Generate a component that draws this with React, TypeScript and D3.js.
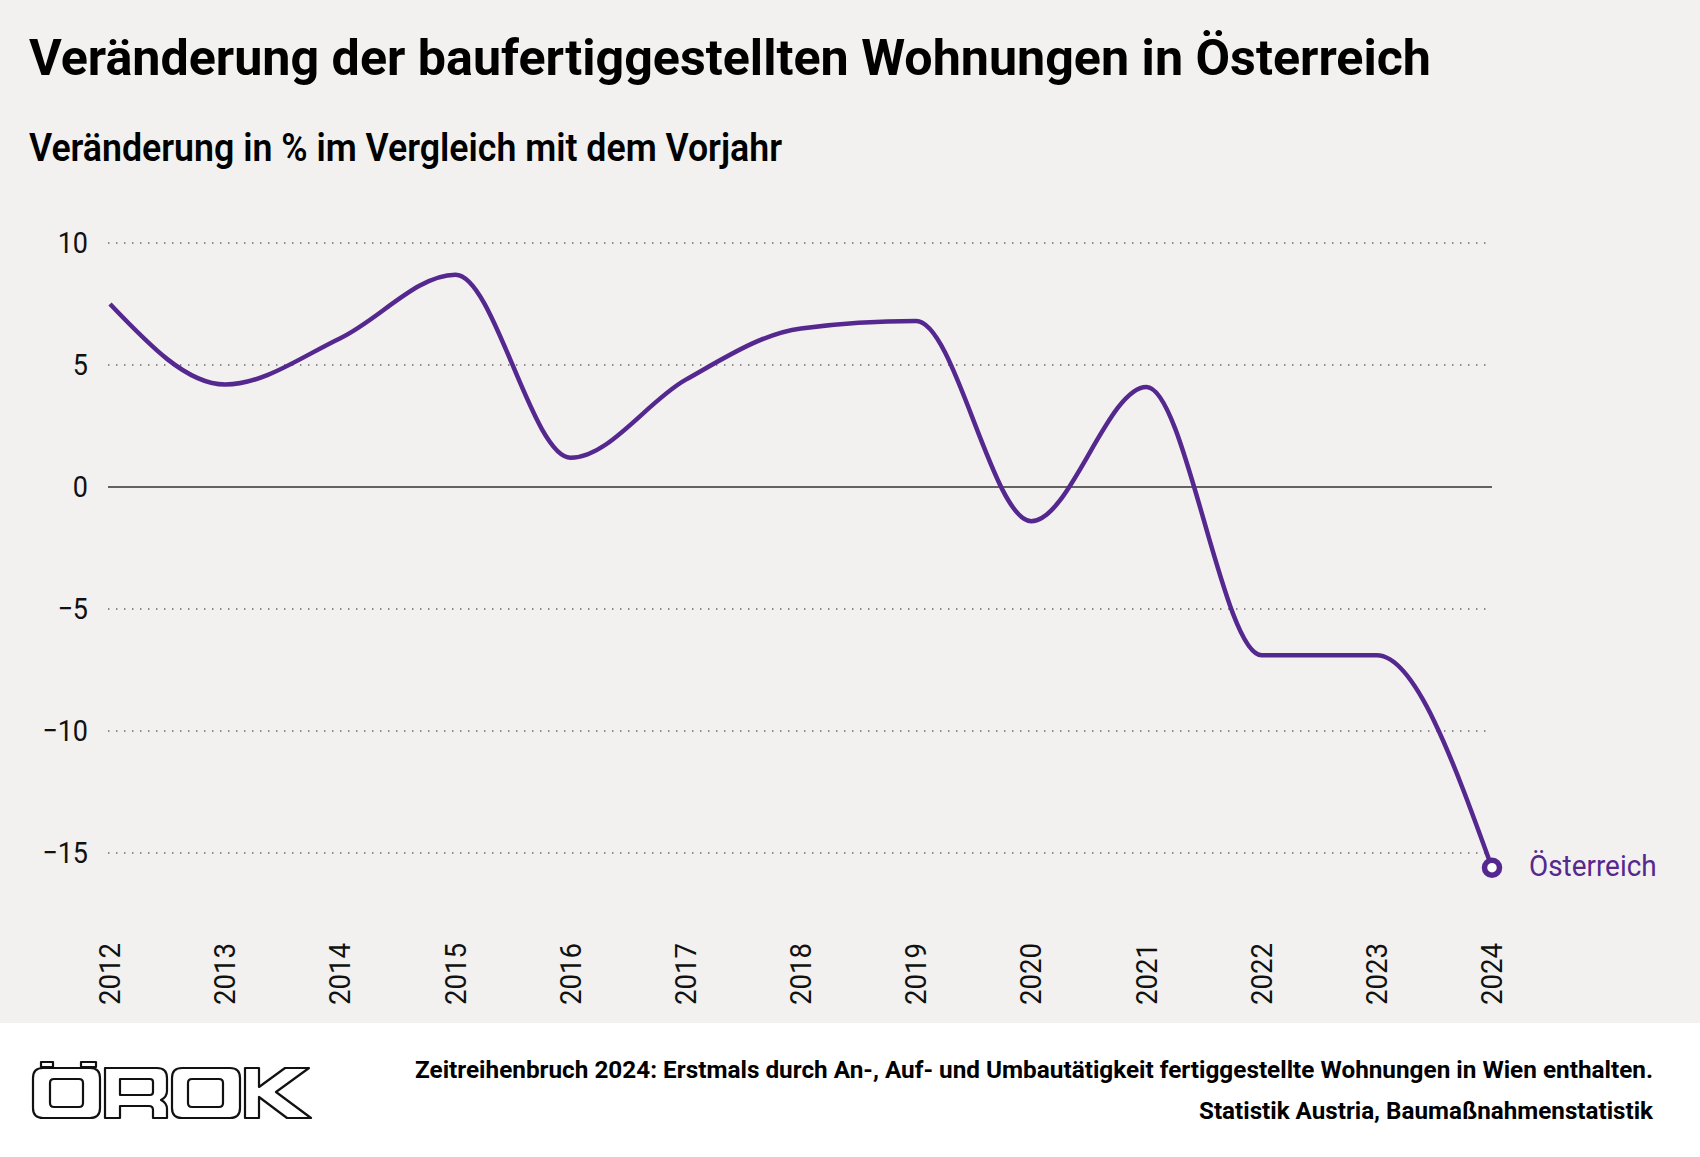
import React from 'react'
import * as d3 from 'd3'

// Veränderung der baufertiggestellten Wohnungen, % zum Vorjahr
const years = [2012, 2013, 2014, 2015, 2016, 2017, 2018, 2019, 2020, 2021, 2022, 2023, 2024]
const values = [7.5, 4.2, 6.1, 8.7, 1.2, 4.4, 6.5, 6.8, -1.4, 4.1, -6.9, -6.9, -15.6]
const yTicks = [10, 5, 0, -5, -10, -15]
const seriesName = 'Österreich'

const title = 'Veränderung der baufertiggestellten Wohnungen in Österreich'
const subtitle = 'Veränderung in % im Vergleich mit dem Vorjahr'
const note = 'Zeitreihenbruch 2024: Erstmals durch An-, Auf- und Umbautätigkeit fertiggestellte Wohnungen in Wien enthalten.'
const source = 'Statistik Austria, Baumaßnahmenstatistik'

const W = 1700
const H = 1157
const purple = '#55288f'
const font = 'Roboto, "Noto Sans", sans-serif'

export default function App() {
  const x = d3.scaleLinear().domain([2012, 2024]).range([110, 1492])
  const y = d3.scaleLinear().domain([-15, 10]).range([853, 243])

  const line = d3.line<number>()
    .x((_, i) => x(years[i]))
    .y(d => y(d))
    .curve(d3.curveMonotoneX)

  const lastX = x(years[years.length - 1])
  const lastY = y(values[values.length - 1])
  const fmt = (v: number) => (v < 0 ? '\u2212' + Math.abs(v) : String(v))

  return (
    <div style={{ position: 'absolute', left: 0, top: 0 }}>
      <svg width={W} height={H} style={{ display: 'block' }}>
        <rect x={0} y={0} width={W} height={1023} fill="#f2f1ef" />
        <rect x={0} y={1023} width={W} height={H - 1023} fill="#ffffff" />

        <text x={29} y={75} fontFamily={font} fontWeight={700} fontSize={50}
          textLength={1402} lengthAdjust="spacingAndGlyphs" fill="#000">{title}</text>
        <text x={29} y={161} fontFamily={font} fontWeight={600} fontSize={38}
          textLength={753} lengthAdjust="spacingAndGlyphs" fill="#000">{subtitle}</text>

        {/* gridlines */}
        {yTicks.map(t => (
          <line key={'g' + t} x1={108} x2={lastX} y1={y(t)} y2={y(t)}
            stroke={t === 0 ? '#333' : '#666'}
            strokeWidth={t === 0 ? 1.6 : 1.4}
            strokeDasharray={t === 0 ? undefined : '1.4 6.6'} />
        ))}
        {yTicks.map(t => (
          <text key={'l' + t} transform={`translate(88,${y(t) + 10}) scale(0.9,1)`}
            textAnchor="end" fontFamily={font} fontSize={30} fill="#111">{fmt(t)}</text>
        ))}

        {/* x labels */}
        {years.map(yr => (
          <text key={yr} transform={`translate(${x(yr) + 10},943) rotate(-90) scale(0.92,1)`}
            textAnchor="end" fontFamily={font} fontSize={30} fill="#111">{yr}</text>
        ))}

        <path d={line(values) || ''} fill="none" stroke={purple} strokeWidth={4.5}
          strokeLinejoin="round" />
        <circle cx={lastX} cy={lastY} r={7.5} fill="#fff" stroke={purple} strokeWidth={5.5} />
        <text transform={`translate(1529,${lastY + 8}) scale(0.93,1)`}
          fontFamily={font} fontSize={30} fill={purple}>{seriesName}</text>

        {/* footer */}
        <g fill="#fff" stroke="#111" strokeWidth={2.2} strokeLinejoin="round">
          <rect x={41} y={1062} width={12} height={5} />
          <rect x={81} y={1062} width={15} height={5} />
          <path fillRule="evenodd" d="M43,1068 H90 Q100,1068 100,1078 V1108 Q100,1118 90,1118 H43 Q33,1118 33,1108 V1078 Q33,1068 43,1068 Z M54,1079 H79 Q83,1079 83,1083 V1103 Q83,1107 79,1107 H54 Q50,1107 50,1103 V1083 Q50,1079 54,1079 Z" />
          <path fillRule="evenodd" d="M105,1068 H157 Q167,1068 167,1078 V1091 Q167,1097 161,1100 Q167,1103 167,1109 V1118 H153 V1110 Q153,1106 149,1106 H120 V1118 H105 Z M120,1079 H150 Q153,1079 153,1082 V1092 Q153,1095 150,1095 H120 Z" />
          <path fillRule="evenodd" d="M182,1068 H230 Q240,1068 240,1078 V1108 Q240,1118 230,1118 H182 Q172,1118 172,1108 V1078 Q172,1068 182,1068 Z M192,1079 H219 Q223,1079 223,1083 V1103 Q223,1107 219,1107 H192 Q188,1107 188,1103 V1083 Q188,1079 192,1079 Z" />
          <path d="M245,1068 H259 V1087 L285,1068 H309 L276,1092 L311,1118 H287 L259,1097 V1118 H245 Z" />
        </g>

        <text x={1653} y={1078} textAnchor="end" fontFamily={font} fontWeight={700} fontSize={24}
          textLength={1238} lengthAdjust="spacingAndGlyphs" fill="#000">{note}</text>
        <text x={1653} y={1119} textAnchor="end" fontFamily={font} fontWeight={700} fontSize={24}
          textLength={454} lengthAdjust="spacingAndGlyphs" fill="#000">{source}</text>
      </svg>
    </div>
  )
}
